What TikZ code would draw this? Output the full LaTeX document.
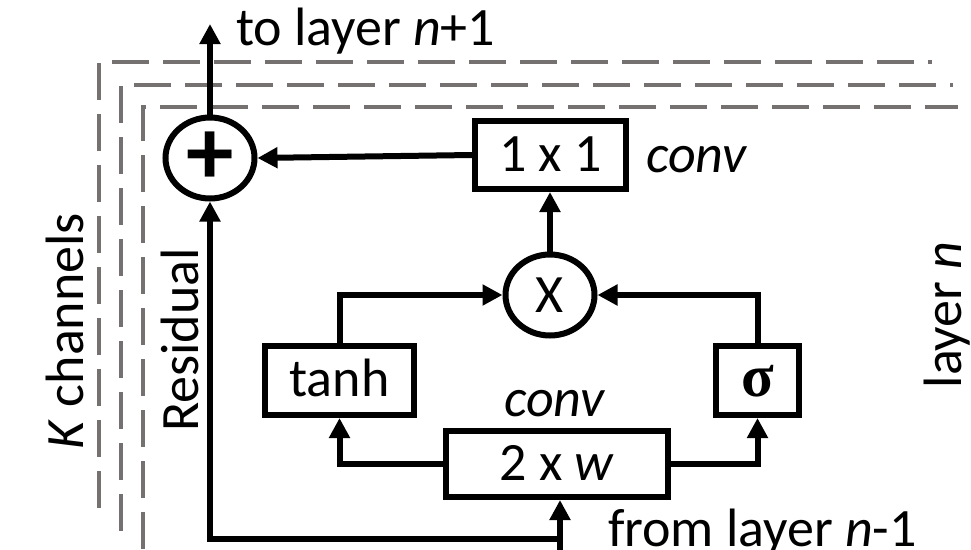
\documentclass[tikz,border=0pt]{standalone}
\usepackage{fontspec}
\setmainfont{Carlito}
\newfontfamily\greekserif{Liberation Serif}
\usetikzlibrary{arrows.meta,shapes.geometric}
\definecolor{dashgray}{RGB}{118,113,113}
\begin{document}
\begin{tikzpicture}[x=1pt,y=-1pt,
  line width=6pt,
  >={Triangle[length=20pt,width=20pt]},
  box/.style={draw, rectangle, inner sep=0pt, text height=32pt, text depth=0pt,
              font=\fontsize{54}{60}\selectfont},
  op/.style={draw, ellipse, inner sep=0pt, minimum width=89pt, minimum height=81pt},
  lbl/.style={inner sep=0pt, font=\fontsize{54}{60}\selectfont},
  chan/.style={draw=dashgray, line width=4pt, dash pattern=on 37pt off 14pt},
]
\useasboundingbox (0,0) rectangle (971,549);

% channel frames
\draw[chan] (99,508) -- (99,62) -- (932,62);
\draw[chan] (121,531) -- (121,85) -- (953,85);
\draw[chan] (143,549) -- (143,107) -- (958,107);

% nodes
\node[op, font=\fontsize{95}{100}\selectfont\bfseries] (plus) at (210,158) {+};
\node[box, minimum width=151pt, minimum height=68pt] (c1) at (550.5,155) {1 x 1};
\node[op, font=\fontsize{54}{60}\selectfont] (mult) at (550,295) {X};
\node[box, minimum width=149pt, minimum height=69pt] (tanh) at (339.5,380.5) {tanh};
\node[box, minimum width=83pt, minimum height=69pt, font=\fontsize{60}{64}\selectfont\greekserif\bfseries] (sig) at (757.5,380.5) {σ};
\node[box, minimum width=222pt, minimum height=66pt] (w) at (557,464) {2 x \textit{w}};

% labels
\node[lbl, anchor=base west] (tolbl) at (233,45) {to layer \textit{n}+1};
\node[lbl, anchor=base west] (conv1) at (643,172) {\textit{conv}};
\node[lbl, anchor=base west] (conv2) at (501,416) {\textit{conv}};
\node[lbl, anchor=base west] (fromlbl) at (605,546) {from layer \textit{n}-1};
\node[lbl, anchor=base, rotate=90] (laylbl) at (961,315) {layer \textit{n}};
\node[lbl, anchor=base, rotate=90] (klbl) at (83,331) {\textit{K} channels};
\node[lbl, anchor=base, rotate=90] (reslbl) at (198,340) {Residual};

% coordinates
\coordinate (top) at (210,24);
\coordinate (in) at (560,552);
\coordinate (j) at (560,539);

% connectors
\draw[->] (plus.north) -- (top);
\draw[->] (c1.west) -- (plus.east);
\draw[->] (mult.north) -- (mult.north |- c1.south);
\draw[->] (tanh.north) |- (mult.west);
\draw[->] (sig.north) |- (mult.east);
\draw[->] (w.west) -| (tanh.south);
\draw[->] (w.east) -| (sig.south);
\draw[->] (in) -- (in |- w.south);
\draw[->] (j) -| (plus.south);
\end{tikzpicture}
\end{document}
